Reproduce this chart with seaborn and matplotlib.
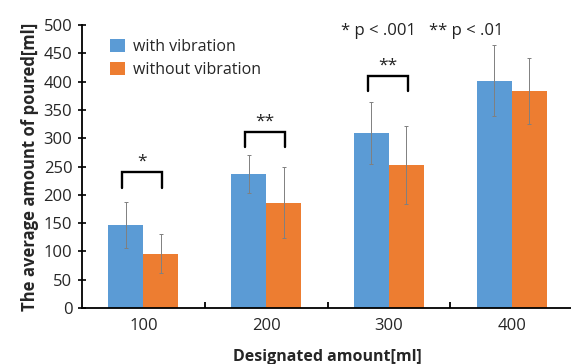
import matplotlib
matplotlib.use("Agg")
import matplotlib.pyplot as plt
import seaborn as sns
import pandas as pd

categories = ["100", "200", "300", "400"]
series = ["with vibration", "without vibration"]
with_vib = [147, 237, 309, 402]
without_vib = [96, 186, 253, 384]
with_err = [41, 34, 55, 63]
without_err = [34, 63, 69, 58]
sig_labels = ["*", "**", "**"]
bracket_top = [241, 311, 410]
bracket_leg = [212, 285, 384]
yticks = [0, 50, 100, 150, 200, 250, 300, 350, 400, 450, 500]

colors = ["#5B9BD5", "#ED7D31"]

df = pd.DataFrame({
    "cat": categories * 2,
    "series": [series[0]] * 4 + [series[1]] * 4,
    "val": with_vib + without_vib,
})
errs = with_err + without_err

sns.set_style("white")
plt.rcParams["font.family"] = ["Open Sans", "DejaVu Sans"]

fig = plt.figure(figsize=(5.71, 3.64), dpi=100)
ax = fig.add_axes([0.1436, 0.154, 0.86, 0.777])

sns.barplot(data=df, x="cat", y="val", hue="series", palette=colors,
            width=0.57, errorbar=None, ax=ax, saturation=1, order=categories,
            hue_order=series, linewidth=0, edgecolor="none")

patches = [p for p in ax.patches if p.get_height() > 0][:8]
for p, e in zip(patches, errs):
    cx = p.get_x() + p.get_width() / 2
    ax.errorbar(cx, p.get_height(), yerr=e, fmt="none", ecolor="#808080",
                elinewidth=0.7, capsize=1.5, capthick=0.7, zorder=5)

for i, (lab, top, leg) in enumerate(zip(sig_labels, bracket_top, bracket_leg)):
    pb = patches[i]
    po = patches[i + 4]
    x1 = pb.get_x() + pb.get_width() / 2 - 0.03
    x2 = po.get_x() + po.get_width() / 2 + 0.01
    ax.plot([x1, x1, x2, x2], [leg, top, top, leg], color="black", lw=1.7,
            solid_joinstyle="miter", zorder=6)
    ax.text((x1 + x2) / 2, top + 4, lab, ha="center", va="bottom",
            fontsize=12.5, color="#222222")

ax.text(2.27, 489, "* p < .001   ** p < .01", ha="center", va="center",
        fontsize=12, color="#222222")

ax.set_xlim(-0.5, 3.5)
ax.set_ylim(0, 500)
ax.set_yticks(yticks)
ax.set_yticklabels([str(t) for t in yticks], fontsize=12)
ax.set_xticks(range(4))
ax.set_xticklabels(categories, fontsize=12)
ax.set_xticks([0.5, 1.5, 2.5], minor=True)
ax.tick_params(axis="x", which="major", length=0, pad=7)
ax.tick_params(axis="x", which="minor", direction="in", length=4, width=1.3,
               color="black", bottom=True)
ax.tick_params(axis="y", which="major", direction="inout", length=6, width=1.2,
               color="black", left=True, pad=4)

for s in ["top", "right"]:
    ax.spines[s].set_visible(False)
for s in ["left", "bottom"]:
    ax.spines[s].set_color("black")
    ax.spines[s].set_linewidth(1.3)

ax.set_ylabel("The average amount of poured[ml]", fontsize=12, fontweight="bold",
              labelpad=3)
ax.set_xlabel("Designated amount[ml]", fontsize=11.5, fontweight="bold", labelpad=11)

leg = ax.legend(loc="upper left", bbox_to_anchor=(0.045, 0.975), frameon=False,
                fontsize=11.5, handlelength=0.9, handleheight=0.9,
                handletextpad=0.5, labelspacing=0.45, borderaxespad=0)

fig.savefig("out.png", dpi=100)
